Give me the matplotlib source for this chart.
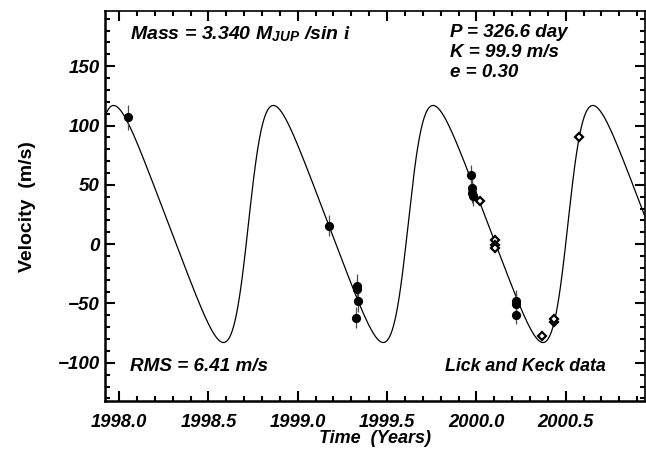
import numpy as np
import matplotlib
matplotlib.use('Agg')
import matplotlib.pyplot as plt
from matplotlib.ticker import MultipleLocator

# orbit parameters (from the labels on the chart)
period_day = 326.6
k_amp = 99.9
ecc = 0.30
omega_deg = 270.0
t_peri = 1998.724
gamma = 17.0

# Lick data (filled circles)
lick_t = [1998.048, 1999.175, 1999.330, 1999.330, 1999.339, 1999.325,
          1999.969, 1999.976, 1999.976, 1999.983, 2000.222, 2000.222, 2000.222]
lick_v = [107.0, 15.5, -35.0, -38.0, -48.0, -62.0,
          58.0, 47.0, 43.5, 41.0, -47.5, -50.5, -59.5]
lick_err = [10.5, 8.7, 10.0, 9.0, 9.0, 9.0, 9.0, 9.0, 9.0, 9.0, 9.0, 9.0, 8.0]

# Keck data (open diamonds)
keck_t = [2000.020, 2000.107, 2000.107, 2000.104, 2000.365, 2000.432, 2000.437, 2000.575]
keck_v = [36.0, 3.6, -0.6, -3.4, -77.5, -65.5, -63.0, 90.0]
keck_err = [3.0, 3.0, 3.0, 3.0, 3.0, 3.0, 3.0, 3.0]

x_ticks = [1998.0, 1998.5, 1999.0, 1999.5, 2000.0, 2000.5]
x_labels = ['1998.0', '1998.5', '1999.0', '1999.5', '2000.0', '2000.5']
y_ticks = [-100, -50, 0, 50, 100, 150]
y_labels = ['\u2212100', '\u221250', '0', '50', '100', '150']


def kepler_rv(t):
    p_yr = period_day / 365.25
    m = 2 * np.pi * (t - t_peri) / p_yr
    e_an = m.copy()
    for _ in range(50):
        e_an = e_an - (e_an - ecc * np.sin(e_an) - m) / (1 - ecc * np.cos(e_an))
    nu = 2 * np.arctan2(np.sqrt(1 + ecc) * np.sin(e_an / 2),
                        np.sqrt(1 - ecc) * np.cos(e_an / 2))
    w = np.radians(omega_deg)
    return k_amp * (np.cos(nu + w) + ecc * np.cos(w)) + gamma


plt.rcParams['font.family'] = ['Liberation Sans', 'DejaVu Sans']
plt.rcParams['font.weight'] = 'bold'
plt.rcParams['font.style'] = 'italic'
plt.rcParams['axes.labelweight'] = 'bold'
plt.rcParams['mathtext.fontset'] = 'custom'
plt.rcParams['mathtext.rm'] = 'Liberation Sans:bold:italic'
plt.rcParams['mathtext.it'] = 'Liberation Serif:italic'

fig = plt.figure(figsize=(6.46, 4.55), dpi=100)
ax = fig.add_axes([0.1633, 0.1176, 0.8352, 0.8582])

tt = np.linspace(1997.9, 2001.0, 2000)
ax.plot(tt, kepler_rv(tt), color='black', lw=0.9)

ax.errorbar(lick_t, lick_v, yerr=lick_err, fmt='o', color='black', ms=5.6,
            ecolor='0.3', elinewidth=0.9, capsize=0, zorder=3)
ax.errorbar(keck_t, keck_v, yerr=keck_err, fmt='D', mfc='white', mec='black',
            mew=1.6, ms=4.0, ecolor='0.3', elinewidth=0.9, capsize=0, zorder=4)

ax.set_xlim(1997.924, 2000.944)
ax.set_ylim(-132.6, 196.5)
ax.set_xticks(x_ticks, x_labels, fontsize=13.2, fontstyle='italic', fontweight='bold')
ax.set_yticks(y_ticks, y_labels, fontsize=13.5, fontstyle='italic', fontweight='bold')
ax.xaxis.set_minor_locator(MultipleLocator(0.1))
ax.yaxis.set_minor_locator(MultipleLocator(10))

ax.tick_params(which='both', direction='in', top=True, right=True, width=1.5)
ax.tick_params(which='major', length=7.5)
ax.tick_params(which='minor', length=3.8)
ax.tick_params(axis='x', pad=9)
ax.tick_params(axis='y', pad=4)
for s in ['left', 'bottom']:
    ax.spines[s].set_linewidth(1.8)
for s in ['top', 'right']:
    ax.spines[s].set_linewidth(1.2)

ax.set_xlabel('Time  (Years)', fontsize=13, fontstyle='italic', labelpad=-1)
ax.set_ylabel('Velocity  (m/s)', fontsize=14, fontstyle='normal', labelpad=16)

ax.text(0.045, 0.941, r'Mass = 3.340 M$_{\mathrm{JUP}}$ /sin $\mathit{i}$',
        transform=ax.transAxes, fontsize=14, va='center')
ax.text(0.638, 0.946, 'P = 326.6 day', transform=ax.transAxes, fontsize=13.5, va='center')
ax.text(0.638, 0.894, 'K = 99.9 m/s', transform=ax.transAxes, fontsize=13.5, va='center')
ax.text(0.638, 0.843, 'e = 0.30', transform=ax.transAxes, fontsize=13.5, va='center')
ax.text(0.045, 0.089, 'RMS = 6.41 m/s', transform=ax.transAxes, fontsize=13.6, va='center')
ax.text(0.630, 0.089, 'Lick and Keck data', transform=ax.transAxes, fontsize=12.8, va='center')

fig.savefig('out.png', dpi=100)
